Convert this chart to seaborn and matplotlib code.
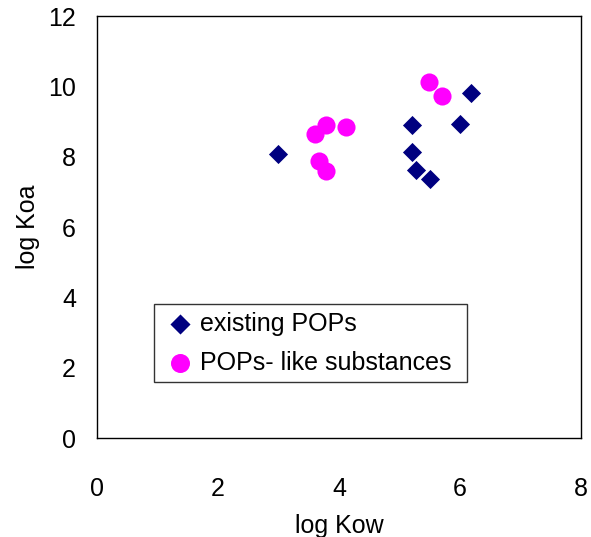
import pandas as pd
import seaborn as sns
import matplotlib.pyplot as plt

# values
pops_kow = [3.00, 5.21, 6.19, 6.00, 5.21, 5.27, 5.50]
pops_koa = [8.09, 8.91, 9.80, 8.92, 8.15, 7.63, 7.37]
like_kow = [5.49, 5.70, 3.79, 3.61, 4.12, 3.67, 3.79]
like_koa = [10.12, 9.72, 8.89, 8.64, 8.85, 7.88, 7.59]
groups = ['existing POPs', 'POPs- like substances']

pops = pd.DataFrame({'log Kow': pops_kow, 'log Koa': pops_koa})
like = pd.DataFrame({'log Kow': like_kow, 'log Koa': like_koa})

sns.set_style('white')
plt.rcParams['font.family'] = ['Liberation Sans', 'DejaVu Sans']
plt.rcParams['text.color'] = 'black'
plt.rcParams['axes.labelcolor'] = 'black'

fig = plt.figure(figsize=(5.91, 5.37), dpi=100)
ax = fig.add_axes([0.164, 0.184, 0.819, 0.786])

sns.scatterplot(data=pops, x='log Kow', y='log Koa', color='#000080', marker='D',
                s=95, linewidth=0, label=groups[0], ax=ax)
sns.scatterplot(data=like, x='log Kow', y='log Koa', color='#FF00FF', marker='o',
                s=170, linewidth=0, label=groups[1], ax=ax)

ax.set_xlim(0, 8)
ax.set_ylim(0, 12)
ax.set_xticks([0, 2, 4, 6, 8])
ax.set_yticks([0, 2, 4, 6, 8, 10, 12])
ax.tick_params(direction='in', length=6, width=0.8, labelsize=18, colors='black')
ax.tick_params(axis='x', pad=28)
ax.tick_params(axis='y', pad=15)
for sp in ax.spines.values():
    sp.set_color('black')
    sp.set_linewidth(1)
ax.set_xlabel('log Kow', fontsize=18, labelpad=9)
ax.set_ylabel('log Koa', fontsize=18, labelpad=6)

leg = ax.legend(loc='lower left', bbox_to_anchor=(0.118, 0.133, 0.646, 0.191),
                mode='expand', fontsize=18, frameon=True, fancybox=False,
                handletextpad=0.05, borderpad=0.3, labelspacing=0.6,
                markerscale=1.05, handlelength=1.5, borderaxespad=0)
leg.get_frame().set_edgecolor('black')
leg.get_frame().set_linewidth(1)

fig.savefig('out.png', dpi=100)
